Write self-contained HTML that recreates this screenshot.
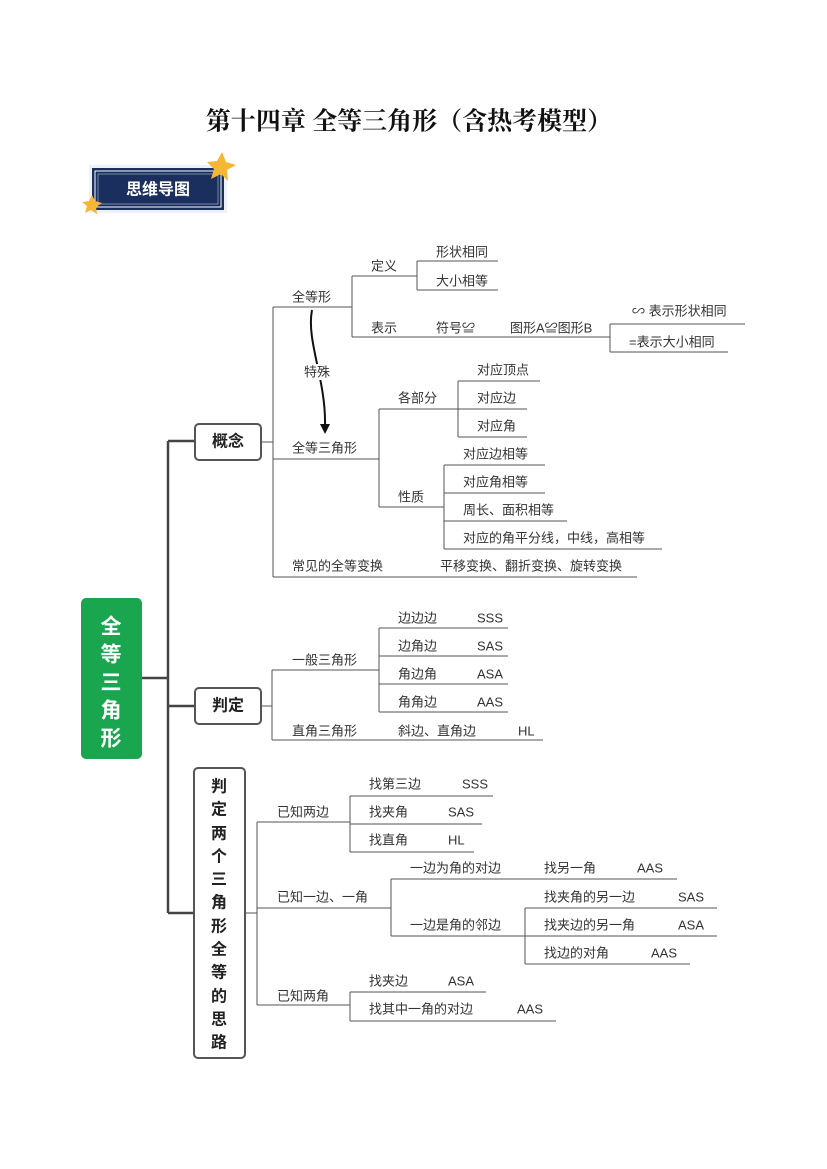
<!DOCTYPE html>
<html><head><meta charset="utf-8"><style>
html,body{margin:0;padding:0;background:#fff}
svg{display:block}
text{font-family:"Liberation Sans","Noto Sans CJK SC",sans-serif;font-size:13px;fill:#333;dominant-baseline:central}
.t{font-family:"Liberation Serif","Noto Serif CJK SC",serif;font-size:25px;font-weight:bold;fill:#111}
.b{font-size:16px;font-weight:bold;fill:#222}
.w{font-size:21px;font-weight:bold;fill:#fff}
line,path.l{stroke:#555;stroke-width:1;fill:none}
.k{stroke:#444;stroke-width:2.5;fill:none}
</style></head><body>
<svg width="827" height="1169" viewBox="0 0 827 1169" xmlns="http://www.w3.org/2000/svg">
<text class="t" x="409" y="122" text-anchor="middle">第十四章  全等三角形（含热考模型）</text>
<!-- badge -->
<rect x="89" y="165" width="138" height="48" fill="#eef2f8"/>
<rect x="92" y="168" width="132" height="42" fill="#1b2f5e"/>
<rect x="95" y="171" width="126" height="36" fill="none" stroke="#fff" stroke-width="1"/>
<rect x="98" y="174" width="120" height="30" fill="none" stroke="#9fb0d0" stroke-width="0.7"/>
<text x="158" y="190" text-anchor="middle" style="font-size:16px;font-weight:bold;fill:#fff">思维导图</text>
<polygon points="222,152 226,162 236,165 227,170 228,181 221,174 211,179 214,169 207,162 217,161" fill="#f7b733"/>
<polygon points="92,195 95,201 102,203 96,207 97,214 91,210 85,213 87,206 82,202 89,201" fill="#f7b733"/>
<!-- green root -->
<rect x="81" y="598" width="61" height="161" rx="5" fill="#1aa64f"/>
<text class="w" x="111" y="627" text-anchor="middle">全</text>
<text class="w" x="111" y="655" text-anchor="middle">等</text>
<text class="w" x="111" y="683" text-anchor="middle">三</text>
<text class="w" x="111" y="711" text-anchor="middle">角</text>
<text class="w" x="111" y="739" text-anchor="middle">形</text>
<!-- trunk -->
<path class="k" d="M142 678H168M168 441V913M168 441H195M168 706H195M168 913H194"/>
<rect x="195" y="424" width="66" height="36" rx="4" fill="#fff" stroke="#555" stroke-width="2"/>
<text class="b" x="228" y="442" text-anchor="middle">概念</text>
<rect x="195" y="688" width="66" height="36" rx="4" fill="#fff" stroke="#555" stroke-width="2"/>
<text class="b" x="228" y="706" text-anchor="middle">判定</text>
<rect x="194" y="768" width="51" height="290" rx="4" fill="#fff" stroke="#555" stroke-width="2"/>
<text class="b" x="219" y="787" text-anchor="middle">判</text>
<text class="b" x="219" y="810" text-anchor="middle">定</text>
<text class="b" x="219" y="834" text-anchor="middle">两</text>
<text class="b" x="219" y="857" text-anchor="middle">个</text>
<text class="b" x="219" y="880" text-anchor="middle">三</text>
<text class="b" x="219" y="903" text-anchor="middle">角</text>
<text class="b" x="219" y="927" text-anchor="middle">形</text>
<text class="b" x="219" y="950" text-anchor="middle">全</text>
<text class="b" x="219" y="973" text-anchor="middle">等</text>
<text class="b" x="219" y="997" text-anchor="middle">的</text>
<text class="b" x="219" y="1020" text-anchor="middle">思</text>
<text class="b" x="219" y="1043" text-anchor="middle">路</text>
<!-- 概念 subtree -->
<path class="l" d="M261 442H273M273 307V577
M273 307H352M352 276V337M352 276H417M417 261V290M417 261H498M417 290H498
M352 337H610M610 324V352M610 324H745M610 352H728
M273 459H379M379 409V507M379 409H458M458 381V437M458 381H540M458 409H527M458 437H527
M379 507H444M444 465V549M444 465H545M444 493H545M444 521H567M444 549H662
M273 577H637"/>
<text x="292" y="297">全等形</text>
<text x="371" y="266">定义</text>
<text x="436" y="252">形状相同</text>
<text x="436" y="281">大小相等</text>
<text x="371" y="328">表示</text>
<text x="436" y="328">符号≌</text>
<text x="510" y="328">图形A≌图形B</text>
<text x="632" y="311">∽  表示形状相同</text>
<text x="629" y="342">=表示大小相同</text>
<path d="M312 310 C306 340,326 380,325 425" stroke="#111" stroke-width="2" fill="none"/>
<polygon points="320,424 330,424 325,434" fill="#111"/>
<rect x="303" y="364" width="30" height="16" fill="#fff"/>
<text x="304" y="372">特殊</text>
<text x="292" y="448">全等三角形</text>
<text x="398" y="398">各部分</text>
<text x="477" y="370">对应顶点</text>
<text x="477" y="398">对应边</text>
<text x="477" y="426">对应角</text>
<text x="398" y="497">性质</text>
<text x="463" y="454">对应边相等</text>
<text x="463" y="482">对应角相等</text>
<text x="463" y="510">周长、面积相等</text>
<text x="463" y="538">对应的角平分线，中线，高相等</text>
<text x="292" y="566">常见的全等变换</text>
<text x="440" y="566">平移变换、翻折变换、旋转变换</text>
<!-- 判定 subtree -->
<path class="l" d="M261 706H272M272 670V740M272 670H379M379 628V712M379 628H508M379 656H508M379 684H508M379 712H508M272 740H543"/>
<text x="292" y="660">一般三角形</text>
<text x="398" y="618">边边边</text><text x="477" y="618">SSS</text>
<text x="398" y="646">边角边</text><text x="477" y="646">SAS</text>
<text x="398" y="674">角边角</text><text x="477" y="674">ASA</text>
<text x="398" y="702">角角边</text><text x="477" y="702">AAS</text>
<text x="292" y="731">直角三角形</text>
<text x="398" y="731">斜边、直角边</text><text x="518" y="731">HL</text>
<!-- third subtree -->
<path class="l" d="M245 913H257M257 822V1005
M257 822H350M350 796V852M350 796H493M350 824H482M350 852H474
M257 908H391M391 879V936M391 879H677M391 936H525M525 908V964M525 908H717M525 936H717M525 964H690
M257 1005H350M350 992V1021M350 992H486M350 1021H556"/>
<text x="277" y="812">已知两边</text>
<text x="369" y="784">找第三边</text><text x="462" y="784">SSS</text>
<text x="369" y="812">找夹角</text><text x="448" y="812">SAS</text>
<text x="369" y="840">找直角</text><text x="448" y="840">HL</text>
<text x="277" y="897">已知一边、一角</text>
<text x="410" y="868">一边为角的对边</text><text x="544" y="868">找另一角</text><text x="637" y="868">AAS</text>
<text x="410" y="925">一边是角的邻边</text>
<text x="544" y="897">找夹角的另一边</text><text x="678" y="897">SAS</text>
<text x="544" y="925">找夹边的另一角</text><text x="678" y="925">ASA</text>
<text x="544" y="953">找边的对角</text><text x="651" y="953">AAS</text>
<text x="277" y="996">已知两角</text>
<text x="369" y="981">找夹边</text><text x="448" y="981">ASA</text>
<text x="369" y="1009">找其中一角的对边</text><text x="517" y="1009">AAS</text>
</svg>
</body></html>
